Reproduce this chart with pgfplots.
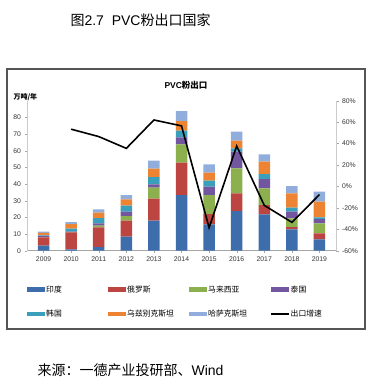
\documentclass[border=0pt]{standalone}
\usepackage{fontspec}
\setmainfont{Liberation Sans}
\newfontfamily\cjk{Noto Sans CJK SC}
\usepackage{pgfplots}
\pgfplotsset{compat=1.18}
\definecolor{cIndia}{HTML}{3E6DAB}
\definecolor{cRussia}{HTML}{BC4542}
\definecolor{cMalay}{HTML}{8DB04E}
\definecolor{cThai}{HTML}{7257A0}
\definecolor{cKorea}{HTML}{3A9FBA}
\definecolor{cUzbek}{HTML}{EC8434}
\definecolor{cKazakh}{HTML}{91ADDB}
\definecolor{frame}{HTML}{555555}
\begin{document}
\begin{tikzpicture}
\useasboundingbox (0pt,0pt) rectangle (379pt,387pt);
\node[anchor=west,font=\fontsize{14}{16}\selectfont] at (67pt,367pt) {{\cjk 图}2.7\ \ PVC{\cjk 粉出口国家}};
\node[anchor=west,font=\fontsize{14}{16}\selectfont] at (34pt,17pt) {{\cjk 来源：一德产业投研部、}Wind};
\draw[frame,line width=1.5pt] (7pt,58pt) rectangle (365pt,318pt);
\node[font=\fontsize{8.5}{10}\selectfont\bfseries] at (186pt,302pt) {PVC{\cjk\bfseries 粉出口}};
\node[anchor=west,font=\fontsize{7}{8}\selectfont\bfseries] at (10pt,290pt) {{\cjk\bfseries 万吨/年}};
\begin{axis}[
  at={(27pt,136.3pt)}, anchor=south west,
  scale only axis, width=309pt, height=150pt,
  xmin=2008.4, xmax=2019.6, ymin=0, ymax=90,
  axis x line*=bottom, axis y line*=left,
  x axis line style={draw=gray!70},
  y axis line style={draw=gray!40},
  ytick={0,10,...,80},
  xtick={2009,...,2019},
  xticklabel style={/pgf/number format/1000 sep=},
  /pgf/number format/assume math mode=true,
  tick label style={font=\fontsize{6.8}{7}\selectfont, text=black!80},
  major tick length=2.5pt,
  tick align=outside,
  tick style={gray!70},
  ybar stacked, bar width=11.5pt,
  legend style={at={(axis description cs:0,-0.225)}, anchor=north west, draw=none, fill=none,
     font=\fontsize{7.8}{9}\selectfont\cjk, inner sep=0pt,
     legend columns=4, row sep=14pt,
     nodes={text width=61pt, align=left, inner sep=1pt}},
  legend cell align=left,
  area legend,
]
\addplot[fill=cIndia, draw=none, legend image code/.code={\fill[cIndia] (0pt,-2.2pt) rectangle (18pt,2.2pt);}] coordinates {(2009,3) (2010,0.8) (2011,2.2) (2012,8.4) (2013,18) (2014,33.4) (2015,15.8) (2016,23.8) (2017,21.8) (2018,12.8) (2019,6.8)};
\addplot[fill=cRussia, draw=none, legend image code/.code={\fill[cRussia] (0pt,-2.2pt) rectangle (18pt,2.2pt);}] coordinates {(2009,5) (2010,10.2) (2011,11.8) (2012,9.6) (2013,13.2) (2014,19.4) (2015,6.2) (2016,10.6) (2017,5.6) (2018,1.4) (2019,3.6)};
\addplot[fill=cMalay, draw=none, legend image code/.code={\fill[cMalay] (0pt,-2.2pt) rectangle (18pt,2.2pt);}] coordinates {(2009,0.2) (2010,0.2) (2011,1) (2012,2.8) (2013,6.6) (2014,11) (2015,11.4) (2016,15) (2017,10) (2018,5.2) (2019,6)};
\addplot[fill=cThai, draw=none, legend image code/.code={\fill[cThai] (0pt,-2.2pt) rectangle (18pt,2.2pt);}] coordinates {(2009,0.5) (2010,0.3) (2011,1.4) (2012,2.6) (2013,2) (2014,4.2) (2015,5) (2016,10) (2017,5.6) (2018,4) (2019,2.6)};
\addplot[fill=cKorea, draw=none, legend image code/.code={\fill[cKorea] (0pt,-2.2pt) rectangle (18pt,2.2pt);}] coordinates {(2009,0.5) (2010,1.8) (2011,3.2) (2012,3.6) (2013,4.4) (2014,4) (2015,3.6) (2016,2) (2017,3) (2018,2.4) (2019,1)};
\addplot[fill=cUzbek, draw=none, legend image code/.code={\fill[cUzbek] (0pt,-2.2pt) rectangle (18pt,2.2pt);}] coordinates {(2009,1.5) (2010,2.6) (2011,3.2) (2012,3.8) (2013,5) (2014,5.8) (2015,4.8) (2016,4.6) (2017,7.4) (2018,8.6) (2019,9.4)};
\addplot[fill=cKazakh, draw=none, legend image code/.code={\fill[cKazakh] (0pt,-2.2pt) rectangle (18pt,2.2pt);}] coordinates {(2009,0.8) (2010,1.2) (2011,2) (2012,2.6) (2013,4.8) (2014,6) (2015,5) (2016,5.4) (2017,4.4) (2018,4.4) (2019,6)};
\addlegendentry{印度}
\addlegendentry{俄罗斯}
\addlegendentry{马来西亚}
\addlegendentry{泰国}
\addlegendentry{韩国}
\addlegendentry{乌兹别克斯坦}
\addlegendentry{哈萨克斯坦}
\addlegendimage{legend image code/.code={\draw[black,line width=1.5pt] (0pt,0pt) -- (18pt,0pt);}}
\addlegendentry{出口增速}
\end{axis}
\begin{axis}[
  at={(27pt,136.3pt)}, anchor=south west,
  scale only axis, width=309pt, height=150pt,
  xmin=2008.4, xmax=2019.6, ymin=-60, ymax=80,
  axis x line=none, axis y line*=right,
  y axis line style={draw=gray!40},
  ytick={-60,-40,...,80},
  yticklabel={\pgfmathprintnumber{\tick}\%},
  /pgf/number format/assume math mode=true,
  tick label style={font=\fontsize{6.8}{7}\selectfont, text=black!80},
  major tick length=2.5pt,
  tick align=outside,
  tick style={gray!70},
]
\addplot[black, line width=1.6pt, mark=none] coordinates {(2010,53.4) (2011,46.5) (2012,35.5) (2013,62) (2014,56.5) (2015,-38.5) (2016,37.7) (2017,-17.7) (2018,-33.5) (2019,-7.7)};
\end{axis}
\end{tikzpicture}
\end{document}
